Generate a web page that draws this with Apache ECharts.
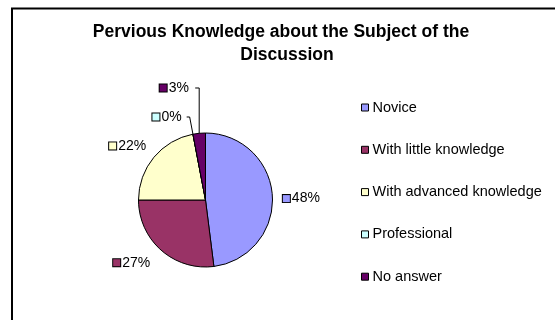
<!DOCTYPE html>
<html>
<head>
<meta charset="utf-8">
<script src="https://cdn.jsdelivr.net/npm/echarts@6/dist/echarts.min.js"></script>
<style>
  html, body { margin: 0; padding: 0; background: #fff; }
  #chart { width: 555px; height: 320px; }
</style>
</head>
<body>
<div id="chart"></div>
<script>
// Survey answers: previous knowledge about the discussion subject (percent)
const categories = ['Novice', 'With little knowledge', 'With advanced knowledge', 'Professional', 'No answer'];
const shares = [48, 27, 22, 0, 3];
const colors = ['#9999FF', '#993366', '#FFFFCC', '#CCFFFF', '#660066'];
const titleLines = ['Pervious Knowledge about the Subject of the', 'Discussion'];

// Per-slice label placement (leader line lengths) around the pie
const labelSetup = [
  { length: 3, length2: 2.5, line: false, dist: 5, padTop: 6 },
  { length: 16.6, length2: 0, line: false, dist: 0, padTop: 0 },
  { length: 17.8, length2: 0, line: false, dist: -6, padTop: 0 },
  { length: 17.5, length2: 3, line: true, dist: 5, padTop: 0 },
  { length: 45.5, length2: 1, line: true, dist: 5, padTop: 0 }
];

const FONT = '"Liberation Sans", Arial, sans-serif';

const data = categories.map((name, i) => ({
  name,
  value: shares[i],
  itemStyle: { color: colors[i] },
  label: {
    distanceToLabelLine: labelSetup[i].dist,
    padding: [labelSetup[i].padTop, 0, 0, 0],
    rich: {
      sq: { width: 7, height: 7, backgroundColor: colors[i], borderColor: '#000', borderWidth: 1 }
    }
  },
  labelLine: {
    show: labelSetup[i].line,
    length: labelSetup[i].length,
    length2: labelSetup[i].length2
  }
}));

const chart = echarts.init(document.getElementById('chart'), null, { renderer: 'canvas' });

chart.setOption({
  animation: false,
  backgroundColor: '#fff',
  graphic: [
    {
      type: 'rect',
      shape: { x: 12, y: 8.5, width: 600, height: 400 },
      style: { fill: 'none', stroke: '#000', lineWidth: 2 },
      z: 0
    },
    {
      type: 'text',
      x: 281, y: 23,
      style: { text: titleLines[0], textAlign: 'center', textVerticalAlign: 'top',
               font: 'bold 17.5px ' + FONT, fill: '#000' }
    },
    {
      type: 'text',
      x: 287, y: 46,
      style: { text: titleLines[1], textAlign: 'center', textVerticalAlign: 'top',
               font: 'bold 17.5px ' + FONT, fill: '#000' }
    }
  ],
  legend: {
    orient: 'vertical',
    left: 361,
    top: 100,
    padding: 0,
    itemWidth: 7,
    itemHeight: 7,
    itemGap: 27.3,
    icon: 'rect',
    itemStyle: { borderColor: '#000', borderWidth: 1 },
    textStyle: { fontFamily: FONT, fontSize: 14.5, color: '#000', padding: [0, 0, 0, -1] },
    data: categories
  },
  series: [{
    type: 'pie',
    center: [205.5, 200],
    radius: [0, 67],
    startAngle: 90,
    clockwise: true,
    avoidLabelOverlap: false,
    itemStyle: { borderColor: '#000', borderWidth: 1 },
    label: {
      show: true,
      position: 'outside',
      fontFamily: FONT,
      fontSize: 14,
      color: '#000',
      formatter: p => '{sq|}{v|' + p.value + '%}',
      rich: {
        v: { fontFamily: FONT, fontSize: 14, color: '#000', padding: [0, 0, 0, 2] }
      }
    },
    labelLine: {
      smooth: false,
      lineStyle: { color: '#000', width: 1 }
    },
    // the thin "No answer" slice gets a straight vertical leader with a short elbow
    labelLayout: params => {
      const pts = params.labelLinePoints;
      if (params.dataIndex !== 4 || !pts) return {};
      const x0 = pts[0][0];
      const yMid = pts[1][1];
      return { labelLinePoints: [pts[0], [x0, yMid], [x0 - 4, yMid]] };
    },
    emphasis: { disabled: true },
    data
  }]
});
</script>
</body>
</html>
